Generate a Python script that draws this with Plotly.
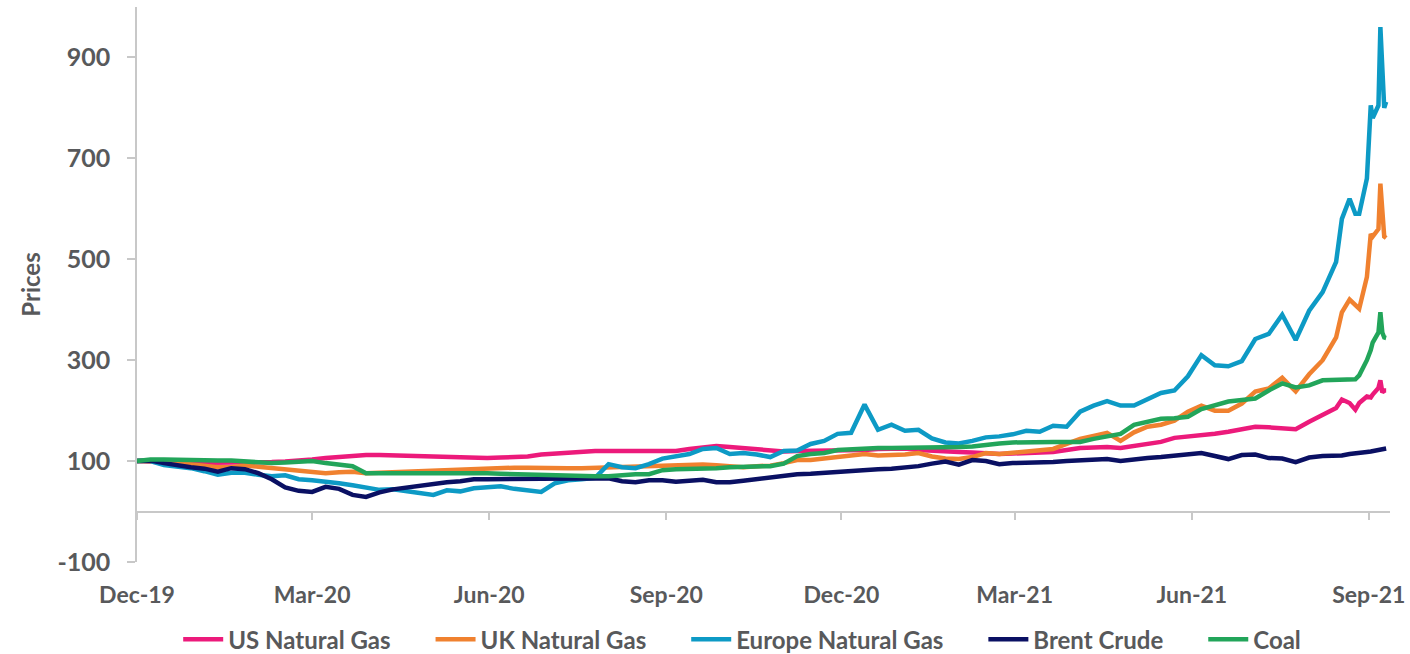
import plotly.graph_objects as go

weekly_dates = [
    "2019-12-01", "2019-12-08", "2019-12-15", "2019-12-22", "2019-12-29",
    "2020-01-05", "2020-01-12", "2020-01-19", "2020-01-26", "2020-02-02",
    "2020-02-09", "2020-02-16", "2020-02-23", "2020-03-01", "2020-03-08",
    "2020-03-15", "2020-03-22", "2020-03-29", "2020-04-05", "2020-04-12",
    "2020-04-19", "2020-04-26", "2020-05-03", "2020-05-10", "2020-05-17",
    "2020-05-24", "2020-05-31", "2020-06-07", "2020-06-14", "2020-06-21",
    "2020-06-28", "2020-07-05", "2020-07-12", "2020-07-19", "2020-07-26",
    "2020-08-02", "2020-08-09", "2020-08-16", "2020-08-23", "2020-08-30",
    "2020-09-06", "2020-09-13", "2020-09-20", "2020-09-27", "2020-10-04",
    "2020-10-11", "2020-10-18", "2020-10-25", "2020-11-01", "2020-11-08",
    "2020-11-15", "2020-11-22", "2020-11-29", "2020-12-06", "2020-12-13",
    "2020-12-20", "2020-12-27", "2021-01-03", "2021-01-10", "2021-01-17",
    "2021-01-24", "2021-01-31", "2021-02-07", "2021-02-14", "2021-02-21",
    "2021-02-28", "2021-03-07", "2021-03-14", "2021-03-21", "2021-03-28",
    "2021-04-04", "2021-04-11", "2021-04-18", "2021-04-25", "2021-05-02",
    "2021-05-09", "2021-05-16", "2021-05-23", "2021-05-30", "2021-06-06",
    "2021-06-13", "2021-06-20", "2021-06-27", "2021-07-04", "2021-07-11",
    "2021-07-18", "2021-07-25", "2021-08-01", "2021-08-08", "2021-08-15",
]
final_dates = [
    "2021-08-18", "2021-08-22", "2021-08-25", "2021-08-27", "2021-08-31",
    "2021-09-02", "2021-09-03", "2021-09-06", "2021-09-07", "2021-09-08",
    "2021-09-09", "2021-09-10",
]
dates = weekly_dates + final_dates

us_gas = [
    100, 98, 96, 96, 96, 96, 96, 96, 97, 98,
    98, 99, 100, 103, 106, 108, 111, 112, 112, 111,
    110, 110, 109, 107, 106, 106, 106, 107, 108, 109,
    113, 115, 116, 118, 120, 120, 120, 120, 119, 119,
    120, 124, 127, 130, 128, 126, 122, 120, 119, 120,
    120, 121, 121, 122, 122, 124, 125, 125, 122, 120,
    119, 118, 117, 115, 114, 115, 116, 117, 118, 122,
    126, 127, 128, 126, 130, 133, 138, 146, 148, 152,
    154, 158, 164, 168, 167, 164, 163, 178, 192, 205,
    222, 215, 202, 215, 228, 226, 232, 245, 260, 236, 240, 240,
]
uk_gas = [
    100, 100, 99, 96, 93, 90, 88, 88, 91, 89,
    86, 84, 82, 78, 76, 78, 79, 76, 77, 78,
    79, 81, 82, 82, 83, 84, 86, 88, 87, 87,
    86, 86, 86, 86, 87, 88, 88, 89, 90, 91,
    92, 94, 93, 92, 89, 88, 90, 91, 96, 102,
    102, 105, 109, 112, 114, 111, 111, 113, 116, 109,
    105, 104, 108, 116, 114, 116, 118, 121, 124, 134,
    144, 150, 156, 140, 157, 168, 172, 180, 198, 210,
    200, 200, 214, 238, 244, 265, 238, 272, 300, 345,
    395, 420, 410, 402, 465, 550, 545, 560, 650, 600, 545, 542,
]
europe_gas = [
    100, 100, 92, 90, 86, 80, 73, 77, 77, 73,
    70, 72, 64, 62, 60, 56, 52, 48, 43, 44,
    40, 38, 33, 42, 40, 46, 47, 50, 45, 41,
    39, 56, 62, 64, 67, 94, 88, 86, 94, 105,
    110, 114, 124, 126, 114, 116, 113, 108, 120, 121,
    134, 140, 154, 156, 212, 162, 172, 160, 162, 145,
    137, 135, 140, 147, 149, 153, 160, 158, 170, 168,
    198, 210, 219, 210, 210, 222, 235, 240, 268, 310,
    290, 288, 298, 342, 352, 390, 340, 398, 435, 495,
    580, 620, 590, 590, 660, 805, 780, 805, 960, 880, 800, 812,
]
brent = [
    100, 101, 96, 91, 88, 85, 79, 86, 84, 76,
    64, 48, 41, 39, 49, 45, 33, 29, 38, 44,
    48, 52, 56, 58, 60, 64, 64, 64, 64, 65,
    66, 66, 66, 66, 66, 66, 60, 58, 62, 62,
    59, 62, 63, 58, 58, 61, 64, 69, 72, 74,
    75, 77, 79, 82, 84, 84, 85, 87, 90, 95,
    99, 93, 102, 100, 94, 96, 96, 98, 98, 100,
    102, 103, 104, 100, 104, 106, 108, 110, 112, 116,
    110, 104, 112, 113, 106, 105, 98, 107, 110, 110,
    111, 114, 116, 116, 118, 119, 120, 121, 122, 123, 124, 125,
]
coal = [
    100, 103, 103, 102, 101, 101, 101, 101, 99, 97,
    96, 97, 98, 100, 96, 92, 90, 76, 76, 76,
    77, 78, 77, 76, 76, 76, 76, 75, 74, 74,
    73, 72, 71, 70, 70, 70, 73, 74, 74, 82,
    84, 84, 84, 86, 88, 88, 89, 90, 95, 110,
    114, 116, 122, 124, 126, 126, 126, 126, 127, 128,
    128, 128, 129, 133, 135, 137, 138, 138, 138, 138,
    138, 144, 148, 154, 172, 178, 184, 185, 188, 203,
    210, 218, 221, 224, 240, 254, 246, 250, 260, 261,
    261, 261, 262, 270, 300, 320, 335, 355, 395, 355, 345, 344,
]

series_names = ["US Natural Gas", "UK Natural Gas", "Europe Natural Gas", "Brent Crude", "Coal"]
series_values = [us_gas, uk_gas, europe_gas, brent, coal]
series_colors = ["#EC1A7B", "#F0812F", "#0D9AC5", "#0A1063", "#22A55A"]

tick_dates = ["2019-12-01", "2020-03-01", "2020-06-01", "2020-09-01", "2020-12-01",
              "2021-03-01", "2021-06-01", "2021-09-01"]
tick_labels = ["Dec-19", "Mar-20", "Jun-20", "Sep-20", "Dec-20", "Mar-21", "Jun-21", "Sep-21"]
y_ticks = [-100, 100, 300, 500, 700, 900]
y_tick_labels = [str(v) for v in y_ticks]

FONT = "Lato"
GREY = "#58595B"
AXIS = "#C8C8C8"
PAD = "\u00a0" * 6  # extra room after each legend entry, as in the original

fig = go.Figure()
for i, (name, vals, col) in enumerate(zip(series_names, series_values, series_colors)):
    label = name + (PAD if i < len(series_names) - 1 else "")
    fig.add_trace(go.Scatter(x=dates, y=vals, name=label, mode="lines",
                             line=dict(color=col, width=4.5)))

# helper trace so the secondary axis (drawn at y = 0) is rendered
fig.add_trace(go.Scatter(x=dates[:1], y=[None], xaxis="x2", showlegend=False,
                         hoverinfo="skip", mode="lines"))

x_range = ["2019-12-01", "2021-09-12"]
y_range = [-100, 1000]
zero_pos = (0 - y_range[0]) / (y_range[1] - y_range[0])

fig.update_layout(
    width=1410, height=654,
    margin=dict(l=137, r=20, t=7, b=92, autoexpand=False),
    plot_bgcolor="white", paper_bgcolor="white",
    font=dict(family=FONT, color=GREY, size=20),
    xaxis=dict(type="date", range=x_range, tickvals=tick_dates, ticktext=tick_labels,
               showgrid=False, showline=False, zeroline=False, ticks="",
               tickfont=dict(family=FONT, size=23, color=GREY, weight="bold"),
               ticklabelstandoff=17),
    xaxis2=dict(type="date", overlaying="x", matches="x", anchor="free", position=zero_pos,
                range=x_range, tickvals=tick_dates, showticklabels=False,
                showgrid=False, zeroline=False, showline=True, linecolor=AXIS, linewidth=1.5,
                ticks="outside", ticklen=8, tickcolor=AXIS, tickwidth=1.5),
    yaxis=dict(range=y_range, tickvals=y_ticks, ticktext=y_tick_labels,
               showgrid=False, zeroline=False,
               showline=True, linecolor=AXIS, linewidth=1.5,
               ticks="outside", ticklen=8, tickcolor=AXIS, tickwidth=1.5,
               tickfont=dict(family=FONT, size=25, color=GREY, weight="bold"),
               ticklabelstandoff=12,
               title=dict(text="Prices", font=dict(family=FONT, size=24, color=GREY, weight="bold"),
                          standoff=10)),
    legend=dict(orientation="h", x=0.483, xanchor="center", y=-0.14, yanchor="middle",
                font=dict(family=FONT, size=24, color=GREY, weight="bold"), itemwidth=40,
                bgcolor="rgba(0,0,0,0)"),
    showlegend=True,
)

fig.write_html("out.html", config={"displayModeBar": False},
               post_script="document.body.style.margin='0';")
